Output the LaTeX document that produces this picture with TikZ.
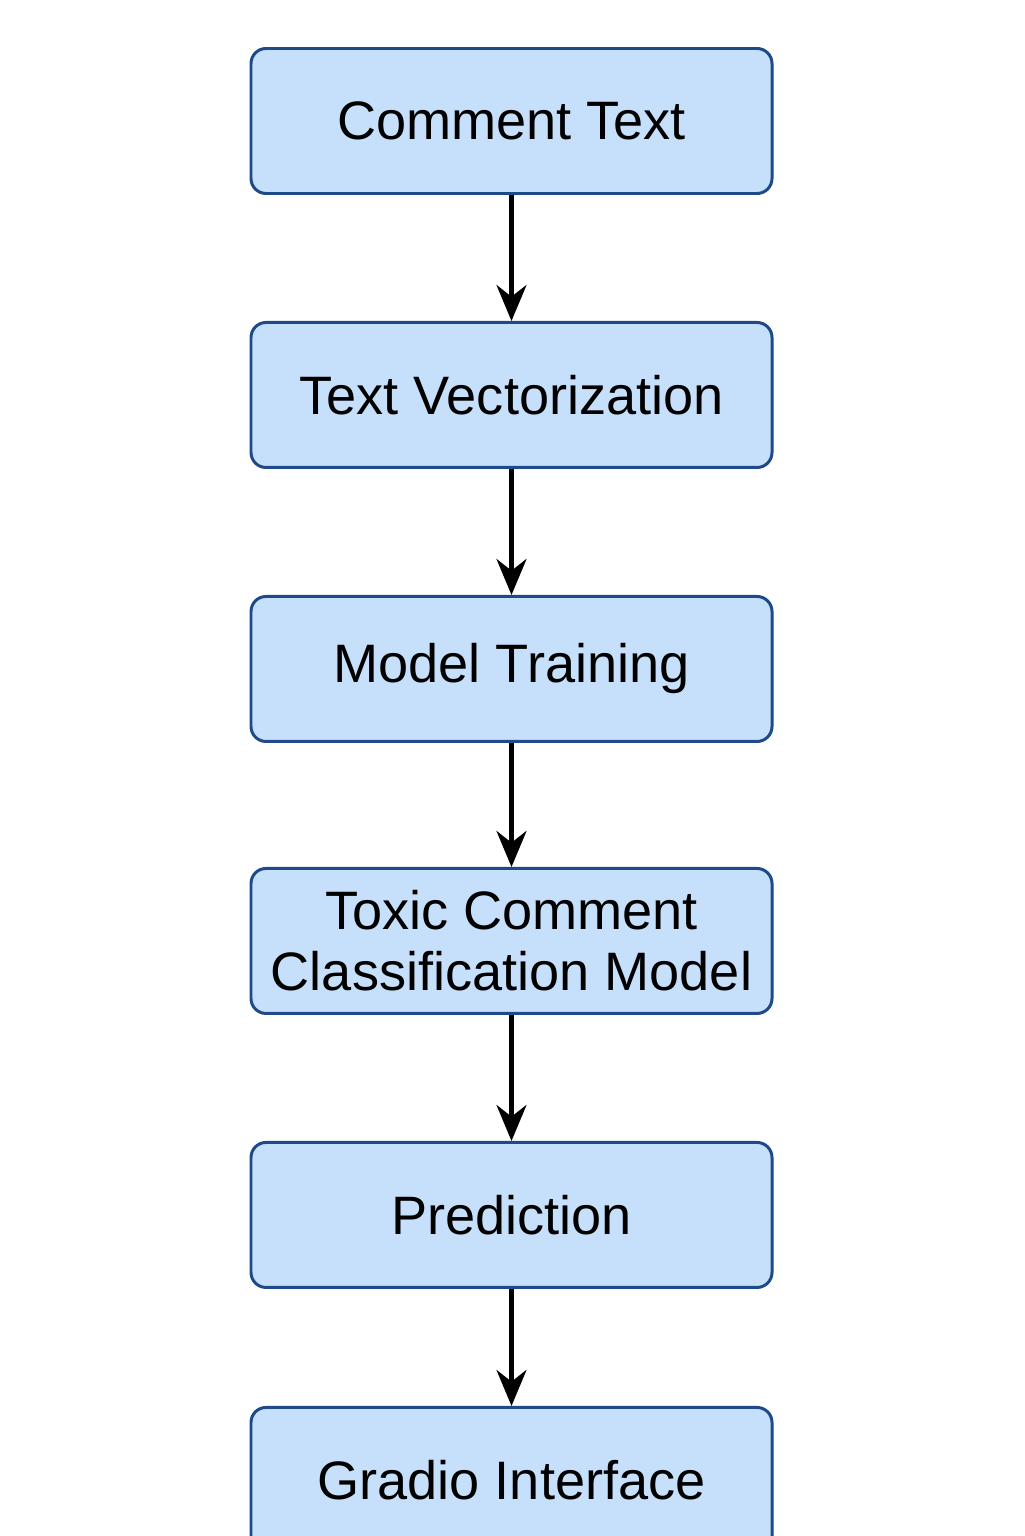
\documentclass[tikz,border=0pt]{standalone}
\usepackage{fontspec}
\setmainfont{Liberation Sans}
\usepackage{xcolor}
\usepackage{tikz}
\usetikzlibrary{arrows.meta,positioning}
\definecolor{boxfill}{HTML}{C6E0FB}
\definecolor{boxline}{HTML}{1F4A8A}

\begin{document}
\begin{tikzpicture}[>={Stealth[length=0.36cm,width=0.3cm]},
box/.style={draw=boxline,fill=boxfill,line width=0.85pt,rounded corners=0.15cm,
minimum width=5.21cm,minimum height=1.45cm,align=center,inner sep=0pt,
font=\fontsize{15.4}{17.4}\selectfont},
flow/.style={->,line width=1.2pt},
node distance=1.26cm]
\clip(0,0) rectangle (10.24,-15.36);
\node[box](comment) at (5.115,-1.21){Comment Text};
\node[box,below=of comment](vector){Text Vectorization};
\node[box,below=of vector](training){Model Training};
\node[box,below=1.24cm of training](model){Toxic Comment\\Classification Model};
\node[box,below=of model](predict){Prediction};
\node[box,below=1.17cm of predict](gradio){Gradio Interface};
\draw[flow](comment)--(vector);
\draw[flow](vector)--(training);
\draw[flow](training)--(model);
\draw[flow](model)--(predict);
\draw[flow](predict)--(gradio);
\end{tikzpicture}
\end{document}
